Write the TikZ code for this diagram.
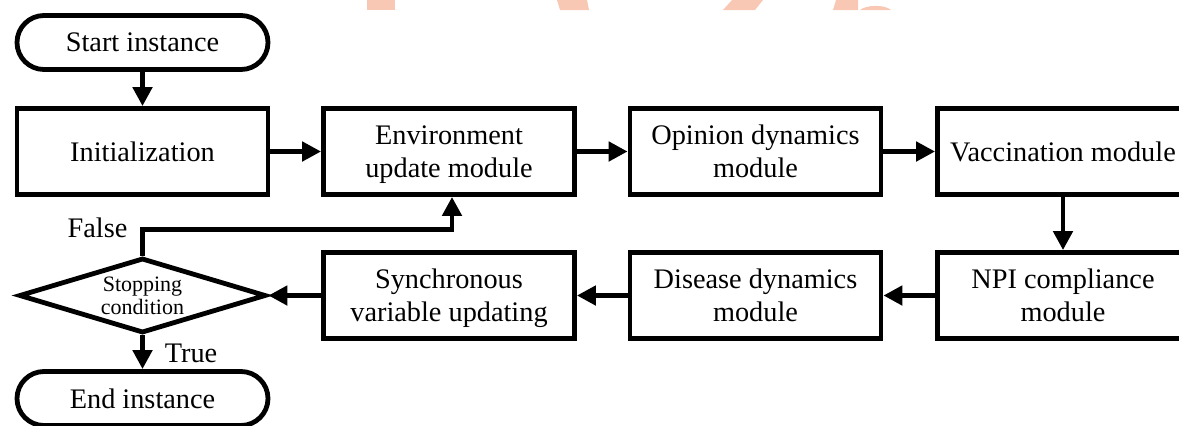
\documentclass[tikz,border=0pt]{standalone}
\usepackage{fontspec}
\setmainfont{Liberation Serif}
\usetikzlibrary{arrows.meta,shapes.geometric}
\definecolor{wmcol}{RGB}{249,200,180}
\tikzset{
  mainfont/.style={font=\fontsize{28.3pt}{33pt}\selectfont},
  box/.style={draw, line width=4.8pt, minimum width=251pt, minimum height=86pt, align=center, inner sep=0pt, mainfont},
  stadium/.style={draw, line width=4.8pt, rounded corners=27pt, minimum width=251pt, minimum height=54pt, inner sep=0pt, mainfont},
  decision/.style={draw, diamond, aspect=3.2, line width=4.8pt, minimum width=247pt, minimum height=75pt, inner sep=0pt, align=center, font=\fontsize{22pt}{23pt}\selectfont},
  arr/.style={line width=4.8pt, -{Triangle[length=19pt,width=19pt]}},
  lbl/.style={mainfont, inner sep=0pt},
  wm/.style={fill=wmcol, draw=none}
}
\begin{document}
\begin{tikzpicture}[x=1pt,y=-1pt]
\useasboundingbox (0,0) rectangle (1179,426);
\clip (0,0) rectangle (1179,426);
% watermark fragments
\fill[wm] (367,0) rectangle (395,10);
\fill[wm] (557,0) -- (587,0) -- (589,10) -- (560,10) -- cycle;
\fill[wm] (732,0) -- (763,0) -- (755,10) -- (723,10) -- cycle;
\fill[wm] (836,0) -- (858,0) -- (858,10) -- (833,10) -- cycle;
\fill[wm] (860,10) .. controls (866,5) and (884,4) .. (891,10) -- cycle;
% nodes
\node[stadium] (start) at (142.5,42.5) {Start instance};
\node[box] (init) at (142.5,151.5) {Initialization};
\node[box] (env) at (449,151.5) {Environment\\\smash{update module}};
\node[box] (opin) at (755.5,151.5) {Opinion dynamics\\module};
\node[box] (vacc) at (1063,151.5) {Vaccination module};
\node[box] (npi) at (1063,295.5) {NPI compliance\\module};
\node[box] (dis) at (755.5,295.5) {Disease dynamics\\module};
\node[box] (sync) at (449,295.5) {Synchronous\\\smash{variable updating}};
\node[decision] (dia) at (142.5,295.5) {Stopping\\condition};
\node[stadium] (fin) at (142.5,398.5) {End instance};
\node[lbl, anchor=base] (flab) at (97.5,237) {False};
\node[lbl, anchor=base] (tlab) at (191,362) {True};
% connectors
\draw[arr] (start) -- (init);
\draw[arr] (init) -- (env);
\draw[arr] (env) -- (opin);
\draw[arr] (opin) -- (vacc);
\draw[arr] (vacc) -- (npi);
\draw[arr] (npi) -- (dis);
\draw[arr] (dis) -- (sync);
\draw[arr] (sync) -- (dia);
\draw[arr] (dia) -- (fin);
\draw[arr] (dia.north) -- ++(0,-26) -| ([xshift=3pt]env.south);
\end{tikzpicture}
\end{document}
